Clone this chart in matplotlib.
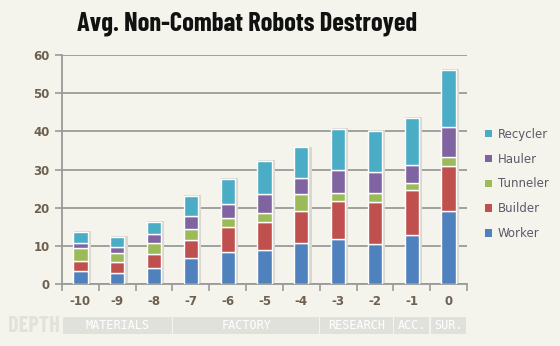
import numpy as np
import matplotlib
matplotlib.use("Agg")
import matplotlib.pyplot as plt
import matplotlib.transforms as mtransforms
from matplotlib.patches import Rectangle

# ---------------------------------------------------------------------
# DATA
# ---------------------------------------------------------------------
depths = ["-10", "-9", "-8", "-7", "-6", "-5", "-4", "-3", "-2", "-1", "0"]

worker   = [3.5, 2.9, 4.2, 6.8, 8.35, 9.1, 10.7, 11.8, 10.6, 13.0, 19.2]
builder  = [2.55, 3.0, 3.7, 4.7, 6.55, 7.1, 8.6, 9.9, 11.0, 11.7, 11.8]
tunneler = [3.35, 2.3, 2.9, 2.85, 2.5, 2.5, 4.35, 2.1, 2.3, 1.8, 2.3]
hauler   = [1.4, 1.5, 2.4, 3.65, 3.7, 5.0, 4.15, 6.1, 5.5, 4.7, 7.8]
recycler = [2.8, 2.8, 3.2, 5.0, 6.4, 8.5, 8.0, 10.8, 10.8, 12.4, 15.0]

series_names = ["Worker", "Builder", "Tunneler", "Hauler", "Recycler"]
series_vals = [worker, builder, tunneler, hauler, recycler]

groups = ["MATERIALS", "FACTORY", "RESEARCH", "ACC.", "SUR."]
group_sizes = [3, 4, 2, 1, 1]

# ---------------------------------------------------------------------
# STYLE
# ---------------------------------------------------------------------
COLORS = ["#4f81bd", "#c0504d", "#9bbb59", "#8064a2", "#4bacc6"]
BG = "#f4f3ec"
GRID = "#9a9a9a"
TICK_TXT = "#6e6050"
BAR_W = 0.39
NARROW = ["Barlow Condensed", "DejaVu Sans"]

# ---------------------------------------------------------------------
def main():
    fig = plt.figure(figsize=(5.6, 3.46), dpi=100, facecolor=BG)
    ax = fig.add_axes([62 / 560, 1 - 284.3 / 346, (467 - 62) / 560, (284.3 - 55) / 346])
    ax.set_facecolor(BG)

    x = np.arange(len(depths))
    totals = np.sum(series_vals, axis=0)

    # soft shadow behind each column
    ax.bar(x + 0.05, totals + 0.25, width=BAR_W + 0.07, color="#d8d7d0",
           edgecolor="none", zorder=2)

    bottom = np.zeros(len(depths))
    for name, vals, col in zip(series_names, series_vals, COLORS):
        ax.bar(x, vals, bottom=bottom, width=BAR_W, color=col,
               edgecolor="white", linewidth=1.0, label=name, zorder=3)
        bottom += np.array(vals)

    # ---------------- AXES ----------------
    ax.set_xlim(-0.5, len(depths) - 0.5)
    ax.set_ylim(0, 60)
    ax.set_yticks(range(0, 61, 10))
    ax.yaxis.grid(True, color=GRID, lw=1.3)
    ax.set_axisbelow(True)

    ax.set_xticks(x)
    ax.set_xticklabels(depths)
    ax.set_xticks(np.arange(-0.5, len(depths), 1), minor=True)
    ax.tick_params(axis="x", which="major", length=0, pad=8)
    ax.tick_params(axis="x", which="minor", length=5, color=GRID, width=1.2)
    ax.tick_params(axis="y", length=5, color=GRID, width=1.2, pad=4)
    for lab in ax.get_xticklabels() + ax.get_yticklabels():
        lab.set_color(TICK_TXT)
        lab.set_fontsize(8.5)
        lab.set_fontweight("bold")

    for s in ["top", "right"]:
        ax.spines[s].set_visible(False)
    for s in ["left", "bottom"]:
        ax.spines[s].set_color(GRID)
        ax.spines[s].set_linewidth(1.3)

    # ---------------- ZONE BAND ----------------
    trans = mtransforms.blended_transform_factory(ax.transData, ax.transAxes)
    y0, y1 = -0.2168, -0.1426
    start = -0.5
    for name, n in zip(groups, group_sizes):
        ax.add_patch(Rectangle((start + 0.02, y0), n - 0.04, y1 - y0,
                               transform=trans, clip_on=False,
                               facecolor="#e1e1dc", edgecolor="none"))
        ax.text(start + n / 2, (y0 + y1) / 2, name, transform=trans,
                ha="center", va="center", color="white", fontsize=8.5,
                family="DejaVu Sans Mono")
        start += n

    fig.text(34 / 560, 1 - 326 / 346, "DEPTH", ha="center", va="center",
             color="#e2e2dc", fontsize=16, family=NARROW, fontweight="bold")

    # ---------------- TITLE ----------------
    fig.text(247 / 560, 1 - 24 / 346, "Avg. Non-Combat Robots Destroyed",
             ha="center", va="center", fontsize=19, fontweight="bold",
             family=NARROW, color="#111111")

    # ---------------- LEGEND ----------------
    handles, labels = ax.get_legend_handles_labels()
    leg = fig.legend(handles[::-1], labels[::-1], loc="center left",
                     bbox_to_anchor=(474 / 560, 1 - 184 / 346), frameon=False,
                     handlelength=0.6, handleheight=0.6, handletextpad=0.5,
                     labelspacing=1.0, fontsize=8.5)
    for t in leg.get_texts():
        t.set_color("#5f5868")
    for h in leg.legend_handles:
        h.set_edgecolor("none")

    fig.savefig("out.png", dpi=100, facecolor=BG)


if __name__ == "__main__":
    main()
